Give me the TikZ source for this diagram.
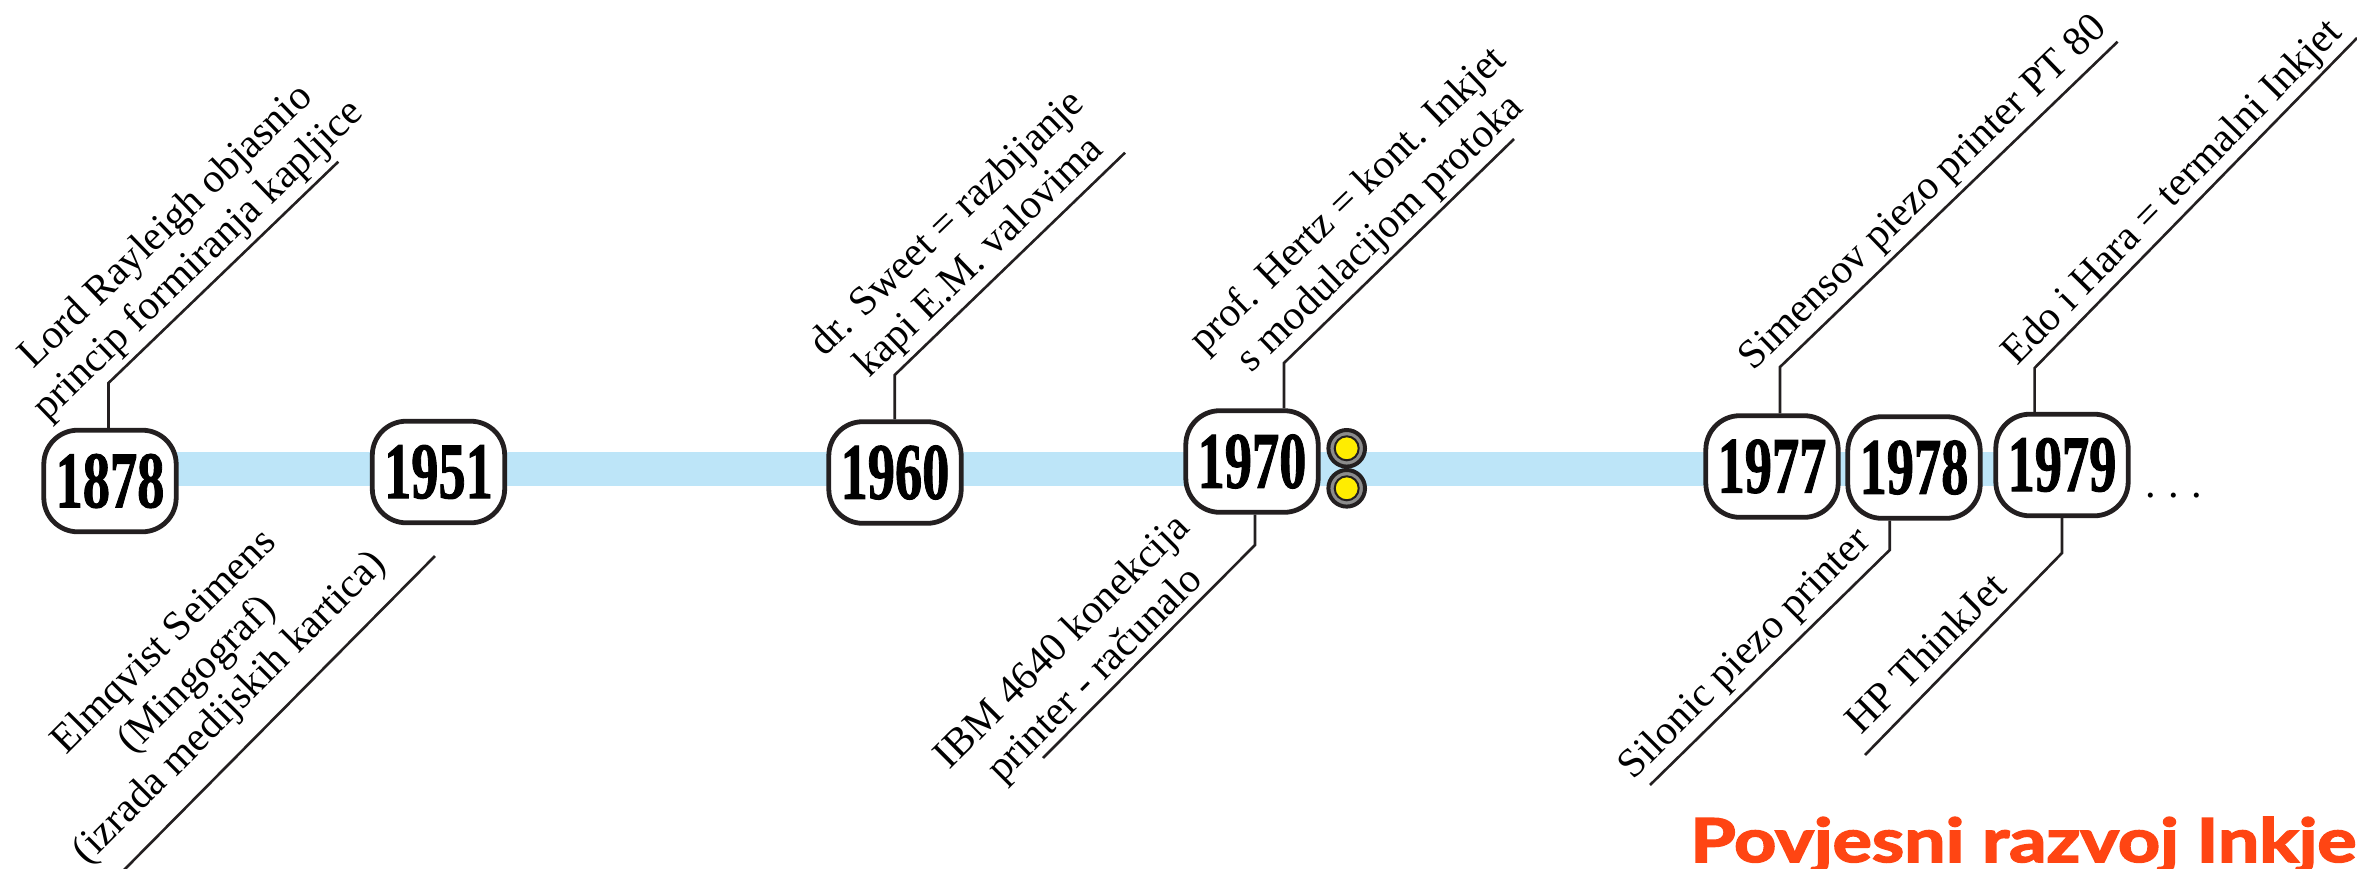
\documentclass[tikz,border=0pt]{standalone}
\usepackage{fontspec}
\usepackage{graphicx}
\setmainfont{Liberation Serif}
\newfontfamily\titlefont{Lato}[BoldFeatures={FakeBold=2.5}]
\newfontfamily\yearfont{Liberation Serif}[BoldFeatures={FakeBold=1.5}]
\usetikzlibrary{backgrounds}
\definecolor{barblue}{RGB}{189,229,248}
\definecolor{boxline}{RGB}{35,31,32}
\definecolor{titlered}{RGB}{255,69,19}
\definecolor{ringgray}{RGB}{140,140,140}
\definecolor{dotyellow}{RGB}{255,237,0}
\newcommand\yearlabel[1]{\scalebox{0.68}[1]{#1}}
\begin{document}
\begin{tikzpicture}[x=0.25pt,y=0.25pt,
  year/.style={draw=boxline, line width=1.2pt, fill=white, rounded corners=8.5pt,
    minimum width=33.1pt, minimum height=25.4pt, inner sep=0pt,
    font=\yearfont\fontsize{20}{20}\selectfont\bfseries},
  leader/.style={draw=boxline, line width=0.65pt},
  lbl/.style={align=center, inner sep=0pt, text depth=0pt, anchor=south,
    font=\fontsize{10.3}{11.6}\selectfont},
  upl/.style={lbl, rotate=44},
  dnl/.style={lbl, rotate=45},
  ring/.style={circle, draw=boxline, line width=1pt, fill=ringgray, minimum size=9.15pt, inner sep=0pt},
  yolk/.style={circle, draw=boxline, line width=0.5pt, fill=dotyellow, minimum size=6pt, inner sep=0pt}]
\useasboundingbox (0,0) rectangle (2357,-868);
\clip (0,0) rectangle (2357,-868);

% year boxes
\node[year] (b1878) at (110,-481) {\yearlabel{1878}};
\node[year] (b1951) at (438.5,-472) {\yearlabel{1951}};
\node[year] (b1960) at (895,-472.5) {\yearlabel{1960}};
\node[year] (b1970) at (1252,-461.5) {\yearlabel{1970}};
\node[year] (b1977) at (1772,-466.5) {\yearlabel{1977}};
\node[year] (b1978) at (1914,-467.5) {\yearlabel{1978}};
\node[year] (b1979) at (2062,-465) {\yearlabel{1979}};

% timeline bar
\coordinate (barL) at (110,-469);
\coordinate (barR) at (2062,-469);
\begin{scope}[on background layer]
\draw[barblue, line width=8.5pt] (barL) -- (barR);
\end{scope}

% yellow markers
\node[ring] (ringA) at (1346.7,-448.3) {};
\node[yolk] (yolkA) at (ringA) {};
\node[ring] (ringB) at (1346.7,-488.3) {};
\node[yolk] (yolkB) at (ringB) {};

% leader coordinates
\coordinate (c1878) at (108.5,-383);   \coordinate (e1878) at (338.3,-161.7);
\coordinate (c1960) at (894.7,-375);   \coordinate (e1960) at (1125,-152.7);
\coordinate (c1970a) at (1284,-363);   \coordinate (e1970a) at (1514,-139);
\coordinate (c1970b) at (1255,-545);   \coordinate (e1970b) at (1043,-758);
\coordinate (c1977) at (1780,-367);    \coordinate (e1977) at (2117.6,-41.7);
\coordinate (c1978) at (1889.7,-550);  \coordinate (e1978) at (1650,-785);
\coordinate (c1979a) at (2034.6,-368); \coordinate (e1979a) at (2357,-38);
\coordinate (c1979b) at (2062,-553);   \coordinate (e1979b) at (1865,-755);
\coordinate (s1951) at (435,-556);     \coordinate (e1951) at (122,-872);

\draw[leader] (b1878.north -| c1878) -- (c1878) -- (e1878);
\draw[leader] (b1960.north -| c1960) -- (c1960) -- (e1960);
\draw[leader] (b1970.north -| c1970a) -- (c1970a) -- (e1970a);
\draw[leader] (b1970.south -| c1970b) -- (c1970b) -- (e1970b);
\draw[leader] (b1977.north -| c1977) -- (c1977) -- (e1977);
\draw[leader] (b1978.south -| c1978) -- (c1978) -- (e1978);
\draw[leader] (b1979.north -| c1979a) -- (c1979a) -- (e1979a);
\draw[leader] (b1979.south -| c1979b) -- (c1979b) -- (e1979b);
\draw[leader] (s1951) -- (e1951);

% labels
\node[upl] (t1878) at (206.7,-268.7) {Lord Rayleigh objasnio\\princip formiranja kapljice};
\node[upl] (t1960) at (987.9,-265.6) {dr. Sweet = razbijanje\\kapi E.M. valovima};
\node[upl] (t1970a) at (1388.7,-242.4) {prof. Hertz = kont. Inkjet\\s modulacijom protoka};
\node[upl] (t1977) at (1931.4,-201.3) {Simensov piezo printer PT 80};
\node[upl, rotate=1.6] (t1979a) at (2181,-201) {Edo i Hara = termalni Inkjet};
\node[dnl] (t1970b) at (1103.9,-683.1) {IBM 4640 konekcija\\printer - računalo};
\node[dnl] (t1978) at (1753.3,-662.1) {Silonic piezo printer};
\node[dnl] (t1979b) at (1935.6,-663.1) {HP ThinkJet};
\node[dnl] (t1951) at (238.2,-716.2) {Elmqvist Seimens\\(Mingograf)\\(izrada medijskih kartica)};

% dots and title
\node[anchor=base west, inner sep=0pt, font=\fontsize{10.6}{11.5}\selectfont] (dots) at (2144.3,-497) {.\hspace{3.15pt}.\hspace{3.15pt}.};
\node[anchor=base west, inner sep=0pt, text=titlered] (title) at (1689.5,-862)
  {\resizebox{166.5pt}{11.25pt}{\titlefont\bfseries Povjesni razvoj Inkje}};
\end{tikzpicture}
\end{document}
